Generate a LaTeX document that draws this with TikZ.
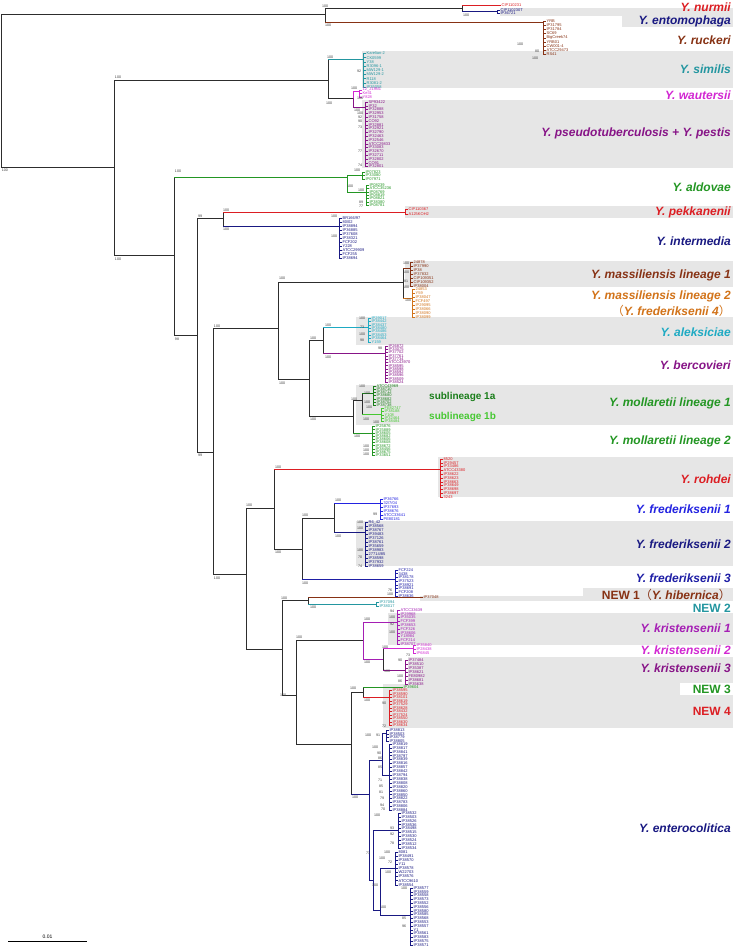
\documentclass[tikz,border=0pt]{standalone}
\usepackage{fontspec}
\setmainfont{Liberation Sans}
\newfontfamily\cjk{Noto Sans CJK JP}
\definecolor{bb}{RGB}{45,45,45}
\definecolor{cred}{RGB}{220,30,35}
\definecolor{cnavy}{RGB}{25,25,130}
\definecolor{cbrown}{RGB}{135,50,20}
\definecolor{cteal}{RGB}{35,150,160}
\definecolor{cmag}{RGB}{210,40,210}
\definecolor{cpur}{RGB}{135,20,135}
\definecolor{cgreen}{RGB}{35,150,35}
\definecolor{corange}{RGB}{210,115,25}
\definecolor{caqua}{RGB}{30,170,195}
\definecolor{cdgreen}{RGB}{25,125,25}
\definecolor{clgreen}{RGB}{70,200,50}
\definecolor{cblue}{RGB}{35,35,225}
\definecolor{cmblue}{RGB}{30,30,165}
\definecolor{ckpur}{RGB}{165,30,180}
\definecolor{boxgray}{RGB}{230,230,230}
\tikzset{
  br/.style={line width=0.9pt},
  lf/.style={line width=0.45pt},
  bs/.style={font=\fontsize{3.6}{3.6}\selectfont, text=black!75, inner sep=0pt},
  leaf/.style={font=\fontsize{4}{4}\selectfont, inner sep=0.4pt, anchor=west},
  clade/.style={font=\fontsize{12}{12}\selectfont\bfseries\itshape, anchor=east, inner sep=0pt},
  cladeup/.style={font=\fontsize{12}{12}\selectfont\bfseries, anchor=east, inner sep=0pt},
  subl/.style={font=\fontsize{10}{10}\selectfont\bfseries, anchor=west, inner sep=0pt},
  gbox/.style={fill=boxgray, draw=none},
}
\newcommand{\elbow}[3]{\draw[br,bb] (#2) -- (#2 |- #3); \draw[br,#1] (#2 |- #3) -- (#3);}
\newcommand{\elbowc}[3]{\draw[br,#1] (#2) |- (#3);}
\newcommand{\leaffan}[6]{%
  \foreach \lab [count=\i] in {#6} {%
    \pgfmathsetmacro{\yy}{#4+(\i-1)*#5}%
    \draw[lf,#2] (#3,\yy) -- ++(3,0) node[leaf,text=#2,name=#1-\i] {\lab};%
    \ifnum\i>1 \draw[lf,#2] (#3,\yy) -- (#3,\yy-#5);\fi
  }%
}
\begin{document}
\begin{tikzpicture}[x=1pt,y=-1pt]
\useasboundingbox[fill=white] (0,0) rectangle (735,950);
% grey boxes
\fill[gbox] (500,8) rectangle (733,16);
\fill[gbox] (622,12) rectangle (733,27);
\fill[gbox] (362,51) rectangle (733,88);
\fill[gbox] (362,100) rectangle (733,168);
\fill[gbox] (405,206) rectangle (733,218);
\fill[gbox] (405,261) rectangle (733,287);
\fill[gbox] (356,317) rectangle (733,345);
\fill[gbox] (356,385) rectangle (733,425);
\fill[gbox] (438,457) rectangle (733,497);
\fill[gbox] (356,521) rectangle (733,566);
\fill[gbox] (420,596) rectangle (733,601);
\fill[gbox] (583,588) rectangle (733,601);
\fill[gbox] (388,613) rectangle (733,645);
\fill[gbox] (408,657) rectangle (733,686);
\fill[gbox] (383,684) rectangle (733,728);
\fill[white] (680,683) rectangle (733,695);
% node coordinates
\coordinate (root) at (1,90);
\coordinate (nA1) at (325,14);
\coordinate (nNE) at (462,8);
\coordinate (nNu) at (498,5);
\coordinate (nEn) at (497,11.7);
\coordinate (nRu) at (543,22);
\coordinate (nA) at (114,167);
\coordinate (nB) at (328,80);
\coordinate (nSim) at (363,59);
\coordinate (nWP) at (353,98);
\coordinate (nWa) at (359,91);
\coordinate (nPs) at (365,107);
\coordinate (nC) at (174,255);
\coordinate (nAld) at (347,177);
\coordinate (nAl1) at (362,175);
\coordinate (nAl2) at (366,192);
\coordinate (nD) at (197,335);
\coordinate (nPI) at (223,218);
\coordinate (nPk) at (405,212);
\coordinate (nIn) at (339,226);
\coordinate (nE) at (213,452);
\coordinate (nF) at (278,328);
\coordinate (nMa) at (403,282);
\coordinate (nM1) at (410,268);
\coordinate (nM2) at (412,298);
\coordinate (nH) at (309,379);
\coordinate (nAB) at (323,340);
\coordinate (nAk) at (368,327);
\coordinate (nBe) at (385,353);
\coordinate (nMo) at (353,416);
\coordinate (nMo1) at (362,400);
\coordinate (nS1a) at (373,393);
\coordinate (nS1b) at (381,414);
\coordinate (nMo2) at (372,433);
\coordinate (nG) at (246,574);
\coordinate (nRF) at (274,508);
\coordinate (nRo) at (440,469);
\coordinate (nFr) at (302,549);
\coordinate (nF12) at (334,518);
\coordinate (nFr1) at (380,503);
\coordinate (nFr2) at (365,532);
\coordinate (nFr3) at (395,579);
\coordinate (nK) at (282,649);
\coordinate (nN12) at (308,600);
\coordinate (nNw1) at (420,597.5);
\coordinate (nNw2) at (376,604);
\coordinate (nL) at (296,695);
\coordinate (nKr) at (363,640);
\coordinate (nK1) at (397,622);
\coordinate (nK23) at (383,659);
\coordinate (nK2) at (413,648);
\coordinate (nK3) at (405,670);
\coordinate (nM) at (351,744);
\coordinate (nN34) at (363,692);
\coordinate (nNw3) at (400,687);
\coordinate (nNw4) at (389,697);
\coordinate (nEnt) at (369,794);
\coordinate (nE1) at (382,760);
\coordinate (nE1a) at (386,733);
\coordinate (nE1b) at (389,775);
\coordinate (nE2) at (373,880);
\coordinate (nE3) at (398,830);
\coordinate (nE4) at (380,910);
\coordinate (nE5) at (395,868);
\coordinate (nE6) at (410,915);
% branches
\elbow{bb}{root}{nA1} \elbow{bb}{root}{nA}
\elbow{bb}{nA1}{nNE} \elbow{cbrown}{nA1}{nRu}
\elbow{cred}{nNE}{nNu} \elbow{cnavy}{nNE}{nEn}
\elbow{bb}{nA}{nB} \elbow{bb}{nA}{nC}
\elbow{cteal}{nB}{nSim} \elbow{bb}{nB}{nWP}
\elbowc{cmag}{nWP}{nWa} \elbowc{cpur}{nWP}{nPs}
\elbow{cgreen}{nC}{nAld} \elbow{bb}{nC}{nD}
\elbowc{cgreen}{nAld}{nAl1} \elbowc{cgreen}{nAld}{nAl2}
\elbow{bb}{nD}{nPI} \elbow{bb}{nD}{nE}
\elbow{cred}{nPI}{nPk} \elbow{cnavy}{nPI}{nIn}
\elbow{bb}{nE}{nF} \elbow{bb}{nE}{nG}
\elbow{bb}{nF}{nMa} \elbow{bb}{nF}{nH}
\elbow{cbrown}{nMa}{nM1} \elbow{corange}{nMa}{nM2}
\elbow{bb}{nH}{nAB} \elbow{bb}{nH}{nMo}
\elbow{caqua}{nAB}{nAk} \elbow{cpur}{nAB}{nBe}
\elbow{bb}{nMo}{nMo1} \elbow{cgreen}{nMo}{nMo2}
\elbow{cdgreen}{nMo1}{nS1a} \elbow{clgreen}{nMo1}{nS1b}
\elbow{bb}{nG}{nRF} \elbow{bb}{nG}{nK}
\elbow{cred}{nRF}{nRo} \elbow{bb}{nRF}{nFr}
\elbow{bb}{nFr}{nF12} \elbow{cmblue}{nFr}{nFr3}
\elbow{cblue}{nF12}{nFr1} \elbow{cnavy}{nF12}{nFr2}
\elbow{bb}{nK}{nN12} \elbow{bb}{nK}{nL}
\elbow{cbrown}{nN12}{nNw1} \elbow{cteal}{nN12}{nNw2}
\elbow{bb}{nL}{nKr} \elbow{bb}{nL}{nM}
\elbowc{ckpur}{nKr}{nK1} \elbowc{ckpur}{nKr}{nK23}
\elbow{cmag}{nK23}{nK2} \elbow{cpur}{nK23}{nK3}
\elbow{bb}{nM}{nN34} \elbow{cnavy}{nM}{nEnt}
\elbow{cgreen}{nN34}{nNw3} \elbow{cred}{nN34}{nNw4}
\elbowc{cnavy}{nEnt}{nE1} \elbowc{cnavy}{nEnt}{nE2}
\elbowc{cnavy}{nE1}{nE1a} \elbowc{cnavy}{nE1}{nE1b}
\elbowc{cnavy}{nE2}{nE3} \elbowc{cnavy}{nE2}{nE4}
\elbowc{cnavy}{nE4}{nE5} \elbowc{cnavy}{nE4}{nE6}
% leaves
\leaffan{nu}{cred}{498}{5}{4}{CIP110231}
\leaffan{en}{cnavy}{497}{10}{3.5}{CIP110230T,IP36721}
\leaffan{ru}{cbrown}{543}{21}{4.2}{YRB,IP31795,IP31784,SC69,BigCreek74,YRB01,CW001-4,ATCC29473,RS41}
\leaffan{si}{cteal}{363}{53.5}{4.2}{Karelian-2,CK0599,Y38,R3096-1,MW129-1,MW129-2,R118,R3081-2,IP35058}
\leaffan{wa}{cmag}{359}{90}{3.5}{12\_219N1,Ke31,Y828}
\leaffan{ps}{cpur}{365}{102}{3.8}{SP93422,IP32,IP32888,IP32953,IP31758,CO92,IP32881,IP32921,IP32790,IP32463,IP32546,ATCC29833,IP33083,IP32670,IP32711,IP32802,CO91,IP32801}
\leaffan{al1}{cgreen}{362}{172}{3.5}{IP07823,IP33080,IP07971}
\leaffan{al2}{cgreen}{366}{185}{3.4}{IP08239,ATCC35236,IP08769,IP08819,IP08821,IP38380,IP08781}
\leaffan{pk}{cred}{405}{209.5}{4.5}{CIP110367,A125KOH2}
\leaffan{in}{cnavy}{339}{218}{4}{BR166/97,80/02,IP38894,IP36885,IP37608,IP38321,FCF202,Y228,ATCC29909,FCF255,IP38694}
\leaffan{m1}{cbrown}{410}{262}{4}{24878,IP37990,IP38,IP37832,CIP109351,CIP109352,IP38004}
\leaffan{m2}{corange}{412}{289}{4}{24853,Y59,IP38047,FCF497,IP29095,IP38066,IP38090,IP38099}
\leaffan{ak}{caqua}{368}{318}{3.4}{IP29017,IP38442,IP38437,IP38480,IP38486,IP38453,IP38464,Y159}
\leaffan{be}{cpur}{385}{346}{3.27}{IP26872,IP33075,IP37702,IP37761,IP37734,ATCC43970,IP38595,IP38598,IP38592,IP38596,IP38509,IP38524}
\leaffan{sa}{cdgreen}{373}{386}{3.2}{ATCC43969,IP38710,IP38712,IP38680,IP38682,IP38702,IP38738}
\leaffan{sb}{clgreen}{381}{408}{3.4}{FE82747,IP38188,Y108,IP32464,IP38484}
\leaffan{mo}{cgreen}{372}{426.5}{3.2}{IP25876,IP25889,IP38605,IP38682,IP38606,IP38608,IP38672,IP38456,IP38675,IP33651}
\leaffan{ro}{cred}{440}{459}{3.8}{8520,IP29457,IP33486,ATCC43380,IP38622,IP38623,IP38663,IP38649,IP38698,IP38697,3243}
\leaffan{fa}{cblue}{380}{499}{4}{IP36766,32/7/04,IP37693,IP38676,ATCC33641,PE80181}
\leaffan{fb}{cnavy}{365}{522}{4}{R6\_42,IP38568,IP38767,IP39483,IP37126,IP38761,IP35659,IP38983,27714/85,IP38598,IP37932,IP38659}
\leaffan{fc}{cmblue}{395}{570}{3.7}{FCF224,3438,IP38178,IP37523,IP38921,IP38691,FCF208,IP38636}
\leaffan{na}{cbrown}{420}{597.5}{4}{IP37048}
\leaffan{nb}{cteal}{376}{602}{4}{IP37094,IP38017}
\leaffan{ka}{ckpur}{397}{610}{3.8}{ATCC33639,IP29968,IP35035,FCF399,IP38653,FCF326,IP38606,Y18984,FCF214,IP38707}
\leaffan{kb}{cmag}{413}{645}{4}{IP35840,IP28438,IP6845}
\leaffan{kc}{cpur}{405}{660}{4}{IP37484,IP38510,IP35387,IP38621,FE80982,IP38681,IP35638}
\leaffan{nc}{cgreen}{400}{687}{4}{IP39604}
\leaffan{nd}{cred}{389}{690.5}{3.5}{IP38595,IP38590,IP38101,IP38619,IP37529,IP38628,IP38432,IP37524,IP38550,IP38630,IP38634}
\leaffan{ea}{cnavy}{386}{730.5}{3.5}{IP38813,IP38503,IP38779,IP38805}
\leaffan{eb}{cnavy}{389}{744}{3.9}{IP38819,IP38817,IP38841,IP38797,IP38839,IP38816,IP38857,IP38842,IP38794,IP38838,IP38808,IP38820,IP38860,IP38850,IP38822,IP38783,IP38806,IP38884}
\leaffan{ec}{cnavy}{398}{813}{3.9}{IP38532,IP38503,IP38526,IP38536,IP38498,IP38515,IP38530,IP38524,IP38512,IP38534}
\leaffan{ed}{cnavy}{395}{852}{4.1}{8081,IP38491,IP38570,Y11,IP38578,W22703,IP38576,ATCC9610,IP38554}
\leaffan{ee}{cnavy}{410}{888}{3.8}{IP38577,IP38559,IP38558,IP38573,IP38552,IP38556,IP38580,IP38585,IP38568,IP38553,IP38557,Y1,IP38561,IP38583,IP38575,IP38571}
% bootstrap values
\foreach \bx/\by/\bt [count=\k] in {
 325/6/100,328/25/100,466/15/100,520/44/100,537/51/80,535/58/100,
 5/170/100,118/77/100,118/259/100,330/57/100,329/103/100,359/71/92,
 354/88/100,360/98/100,357/110/100,360/113/100,360/117/92,360/121/90,360/127/73,360/151/77,360/165/74,
 178/171/100,350/186/100,357/170/100,361/190/100,361/202/89,361/206/77,
 200/216/99,226/210/100,226/229/100,334/216/100,334/236/100,177/339/98,
 217/326/100,282/278/100,282/383/100,406/263/100,406/272/100,406/281/81,406/287/100,408/300/100,
 313/338/100,313/419/100,328/325/100,328/357/100,362/318/100,362/327/73,362/334/100,362/340/98,380/348/98,
 354/399/100,362/386/100,367/393/100,367/402/100,369/407/100,366/419/100,376/422/100,
 357/436/100,366/446/100,366/450/100,366/454/100,
 200/455/99,217/578/100,249/505/100,278/467/100,278/552/100,305/515/100,305/583/100,338/500/100,338/536/100,
 375/514/99,360/522/100,360/528/100,360/550/100,360/557/70,360/566/74,390/590/76,390/594/100,
 284/598/100,313/607/100,299/637/100,283/695/100,367/619/100,367/662/100,
 392/611/94,392/617/100,392/624/92,392/632/100,385/647/100,387/671/100,408/655/73,400/660/90,400/676/100,400/681/86,
 353/688/100,367/700/100,384/703/90,384/726/72,355/797/100,
 368/735/100,378/735/91,375/747/100,379/753/90,380/758/86,380/767/85,380/780/71,381/786/85,381/792/81,382/798/79,382/805/94,383/809/70,
 377/815/100,392/828/93,392/834/92,392/843/78,368/853/73,387/852/100,382/858/100,390/862/72,388/872/100,375/885/100,383/907/100,404/888/100,404/918/85,404/926/96}
 {\node[bs,name=bs\k] at (\bx,\by) {\bt};}
% clade labels
\node[clade,text=cred] (Lnur) at (731,7.5) {Y. nurmii};
\node[clade,text=cnavy] (Lent) at (731,21) {Y. entomophaga};
\node[clade,text=cbrown] (Lruc) at (731,40) {Y. ruckeri};
\node[clade,text=cteal] (Lsim) at (731,69) {Y. similis};
\node[clade,text=cmag] (Lwau) at (731,95) {Y. wautersii};
\node[clade,text=cpur] (Lpst) at (731,133) {Y. pseudotuberculosis + Y. pestis};
\node[clade,text=cgreen] (Lald) at (731,187) {Y. aldovae};
\node[clade,text=cred] (Lpek) at (731,212) {Y. pekkanenii};
\node[clade,text=cnavy] (Lint) at (731,241) {Y. intermedia};
\node[clade,text=cbrown] (Lma1) at (731,275) {Y. massiliensis lineage 1};
\node[clade,text=corange] (Lma2) at (731,296) {Y. massiliensis lineage 2};
\node[clade,text=corange] (Lma2b) at (731,311) {{\cjk\upshape\mdseries （}Y. frederiksenii 4{\cjk\upshape\mdseries ）}};
\node[clade,text=caqua] (Lale) at (731,332) {Y. aleksiciae};
\node[clade,text=cpur] (Lber) at (731,365) {Y. bercovieri};
\node[subl,text=cdgreen] (Ls1a) at (429,397) {sublineage 1a};
\node[subl,text=clgreen] (Ls1b) at (429,417) {sublineage 1b};
\node[clade,text=cgreen] (Lmo1) at (731,403) {Y. mollaretii lineage 1};
\node[clade,text=cgreen] (Lmo2) at (731,441) {Y. mollaretii lineage 2};
\node[clade,text=cred] (Lroh) at (731,479) {Y. rohdei};
\node[clade,text=cblue] (Lfr1) at (731,509) {Y. frederiksenii 1};
\node[clade,text=cnavy] (Lfr2) at (731,544) {Y. frederiksenii 2};
\node[clade,text=cmblue] (Lfr3) at (731,578) {Y. frederiksenii 3};
\node[cladeup,text=cbrown] (Lnw1) at (731,595) {NEW 1{\cjk\mdseries （}\textit{Y. hibernica}{\cjk\mdseries ）}};
\node[cladeup,text=cteal] (Lnw2) at (731,608) {NEW 2};
\node[clade,text=ckpur] (Lkr1) at (731,628) {Y. kristensenii 1};
\node[clade,text=cmag] (Lkr2) at (731,650) {Y. kristensenii 2};
\node[clade,text=cpur] (Lkr3) at (731,668) {Y. kristensenii 3};
\node[cladeup,text=cgreen] (Lnw3) at (731,689) {NEW 3};
\node[cladeup,text=cred] (Lnw4) at (731,711) {NEW 4};
\node[clade,text=cnavy] (Lyen) at (731,828) {Y. enterocolitica};
% scale bar
\coordinate (sb1) at (8,941);
\coordinate (sb2) at (87,941);
\draw[line width=0.8pt] (sb1) -- (sb2) node[midway,above=2pt,font=\fontsize{5}{5}\selectfont,inner sep=0pt] (sbl) {0.01};
\end{tikzpicture}
\end{document}
